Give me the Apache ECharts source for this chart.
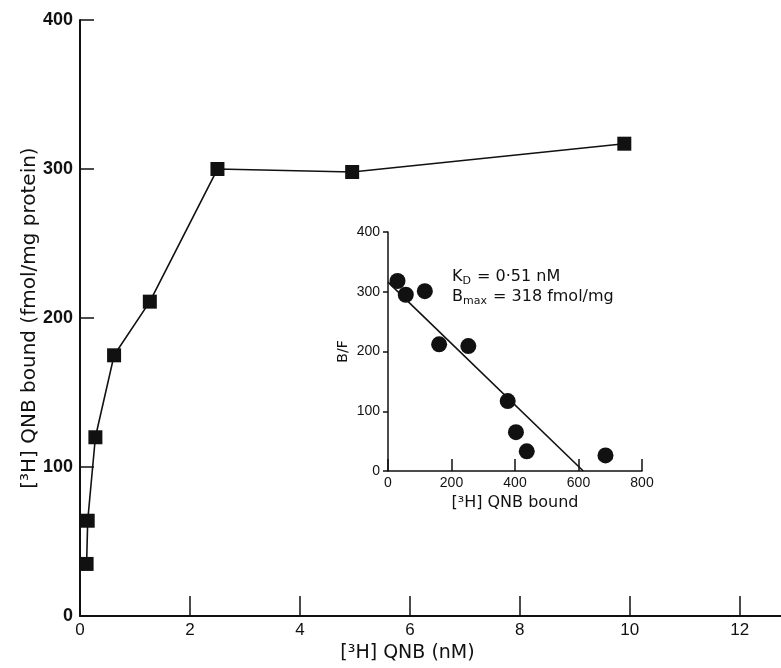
<!DOCTYPE html>
<html>
<head>
<meta charset="utf-8">
<script src="https://cdn.jsdelivr.net/npm/echarts@6/dist/echarts.min.js"></script>
<style>
html,body{margin:0;padding:0;background:#fff;}
#chart{width:781px;height:668px;}
</style>
</head>
<body>
<div id="chart"></div>
<script>
// Main saturation curve
var concNM = [0.12, 0.14, 0.28, 0.62, 1.27, 2.5, 4.95, 9.9];
var boundFmol = [35, 64, 120, 175, 211, 300, 298, 317];
var mainXTicks = [0, 2, 4, 6, 8, 10, 12];
var mainYTicks = [0, 100, 200, 300, 400];

// Inset Scatchard plot
var scatBound = [30, 56, 116, 161, 253, 377, 403, 437, 685];
var scatBF = [318, 295, 301, 212, 209, 117, 65, 33, 26];
var fitBound = [0, 615];
var fitBF = [316, 0];
var insetXTicks = [0, 200, 400, 600, 800];
var insetYTicks = [0, 100, 200, 300, 400];

var KD = '0·51 nM';
var BMAX = '318 fmol/mg';

function zip(a, b) { return a.map(function (v, i) { return [v, b[i]]; }); }

var font = 'Liberation Sans, Arial, sans-serif';
var wide = 'DejaVu Sans, Liberation Sans, sans-serif';
var black = '#111';

var chart = echarts.init(document.getElementById('chart'));
chart.setOption({
  backgroundColor: '#fff',
  animation: false,
  grid: [
    { left: 80, right: 0, top: 20, bottom: 50 },
    { left: 388, right: 139, top: 232, bottom: 197 }
  ],
  xAxis: [
    {
      gridIndex: 0, type: 'value', min: 0, max: 12.75,
      name: '[³H] QNB (nM)', nameLocation: 'middle', nameGap: 24,
      nameTextStyle: { fontFamily: wide, fontSize: 19, color: black, padding: [0, 46, 0, 0] },
      axisLine: { show: true, lineStyle: { color: black, width: 2 } },
      axisTick: { show: true, inside: true, length: 20, customValues: mainXTicks, lineStyle: { color: black, width: 1.5 } },
      axisLabel: {
        fontFamily: font, fontSize: 17, color: black, margin: 6, customValues: mainXTicks
      },
      splitLine: { show: false }
    },
    {
      gridIndex: 1, type: 'value', min: 0, max: 800, interval: 200,
      name: '[³H] QNB bound', nameLocation: 'middle', nameGap: 24,
      nameTextStyle: { fontFamily: wide, fontSize: 16, color: black },
      axisLine: { show: true, lineStyle: { color: black, width: 1.5 } },
      axisTick: { show: true, inside: true, length: 12, lineStyle: { color: black, width: 1.5 } },
      axisLabel: {
        fontFamily: font, fontSize: 14, color: black, margin: 5,
        formatter: function (v) { return insetXTicks.indexOf(v) >= 0 ? String(v) : ''; }
      },
      splitLine: { show: false }
    }
  ],
  yAxis: [
    {
      gridIndex: 0, type: 'value', min: 0, max: 400, interval: 100,
      name: '[³H] QNB bound (fmol/mg protein)', nameLocation: 'middle', nameGap: 40,
      nameMoveOverlap: false,
      nameTextStyle: { fontFamily: wide, fontSize: 20, color: black },
      axisLine: { show: true, lineStyle: { color: black, width: 2 } },
      axisTick: { show: true, inside: true, length: 14, lineStyle: { color: black, width: 1.5 } },
      axisLabel: {
        fontFamily: font, fontSize: 18, fontWeight: 'bold', color: black, margin: 7,
        formatter: function (v) { return mainYTicks.indexOf(v) >= 0 ? String(v) : ''; }
      },
      splitLine: { show: false }
    },
    {
      gridIndex: 1, type: 'value', min: 0, max: 400, interval: 100,
      name: 'B/F', nameLocation: 'middle', nameGap: 38,
      nameTextStyle: { fontFamily: wide, fontSize: 14, color: black },
      axisLine: { show: true, lineStyle: { color: black, width: 1.5 } },
      axisTick: { show: true, inside: false, length: 5, lineStyle: { color: black, width: 1.5 } },
      axisLabel: {
        fontFamily: font, fontSize: 14, color: black, margin: 8,
        formatter: function (v) { return insetYTicks.indexOf(v) >= 0 ? String(v) : ''; }
      },
      splitLine: { show: false }
    }
  ],
  series: [
    {
      type: 'line', xAxisIndex: 0, yAxisIndex: 0,
      data: zip(concNM, boundFmol),
      symbol: 'rect', symbolSize: 14,
      itemStyle: { color: black, opacity: 1 },
      lineStyle: { color: black, width: 1.6 },
      z: 3
    },
    {
      type: 'line', xAxisIndex: 1, yAxisIndex: 1,
      data: zip(fitBound, fitBF),
      symbol: 'none',
      lineStyle: { color: black, width: 1.6 },
      z: 2
    },
    {
      type: 'scatter', xAxisIndex: 1, yAxisIndex: 1,
      data: zip(scatBound, scatBF),
      symbol: 'circle', symbolSize: 16,
      itemStyle: { color: black, opacity: 1 },
      z: 3
    }
  ],
  graphic: [
    {
      type: 'text', left: 452, top: 268,
      style: {
        text: '{n|K}{s|D}{n| = ' + KD + '}\n{n|B}{s|max}{n| = ' + BMAX + '}',
        fill: black,
        rich: {
          n: { fontFamily: wide, fontSize: 16, lineHeight: 20, fill: black },
          s: { fontFamily: wide, fontSize: 11, lineHeight: 20, verticalAlign: 'bottom', padding: [8, 1, 0, 0], fill: black }
        }
      }
    }
  ]
});
</script>
</body>
</html>
